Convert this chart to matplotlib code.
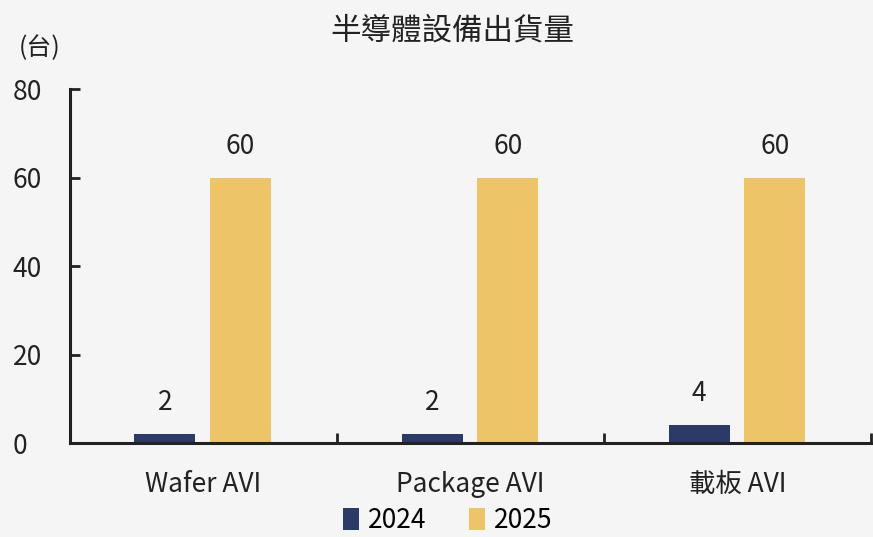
import numpy as np
import matplotlib.pyplot as plt

plt.rcParams['font.family'] = ['Noto Sans CJK TC', 'DejaVu Sans']
plt.rcParams['font.weight'] = 'light'

# Data
categories = ['Wafer AVI', 'Package AVI', '載板 AVI']
series_names = ['2024', '2025']
values_2024 = [2, 2, 4]
values_2025 = [60, 60, 60]

navy = '#2B3A67'
gold = '#EDC468'
bg = '#F5F5F5'
txt = '#222222'

fig = plt.figure(figsize=(8.73, 5.37), dpi=100, facecolor=bg)
ax = fig.add_axes([0.080, 0.175, 0.918, 0.659], facecolor=bg)

x = np.arange(len(categories))
w = 0.228
b1 = ax.bar(x - 0.144, values_2024, w, color=navy, label=series_names[0])
b2 = ax.bar(x + 0.139, values_2025, w, color=gold, label=series_names[1])

# value labels above bars
for bars in (b1, b2):
    for r in bars:
        ax.annotate(f'{r.get_height():g}',
                    (r.get_x() + r.get_width() / 2, r.get_height()),
                    xytext=(0, 18), textcoords='offset pixels',
                    ha='center', va='bottom', fontsize=19, color=txt)

ax.set_xlim(-0.5, 2.5)
ax.set_ylim(0, 80)
ax.set_yticks([0, 20, 40, 60, 80])

# category labels centred, boundary ticks as minor ticks
ax.set_xticks(x)
ax.set_xticklabels(categories, fontsize=19, color=txt)
ax.set_xticks([0.5, 1.5, 2.5], minor=True)
ax.tick_params(axis='x', which='major', length=0, pad=20)
ax.tick_params(axis='x', which='minor', direction='in', length=7,
               width=2, color=txt)
ax.tick_params(axis='y', direction='in', length=7, width=2,
               color=txt, labelsize=19, labelcolor=txt, pad=41)
for lab in ax.get_yticklabels():
    lab.set_horizontalalignment('left')

for s in ['top', 'right']:
    ax.spines[s].set_visible(False)
for s in ['left', 'bottom']:
    ax.spines[s].set_linewidth(2.2)
    ax.spines[s].set_color(txt)

fig.text(0.518, 0.942, '半導體設備出貨量', ha='center', va='center',
         fontsize=22, color=txt)
fig.text(0.022, 0.91, '(台)', ha='left', va='center',
         fontsize=18, color=txt)

fig.legend(handles=[b1, b2], labels=series_names, loc='center',
           bbox_to_anchor=(0.513, 0.031), ncol=2, frameon=False,
           fontsize=19, handlelength=0.6, handleheight=0.9,
           handletextpad=0.35, columnspacing=1.6, borderpad=0.1)

fig.savefig('out.png', dpi=100, facecolor=bg)
